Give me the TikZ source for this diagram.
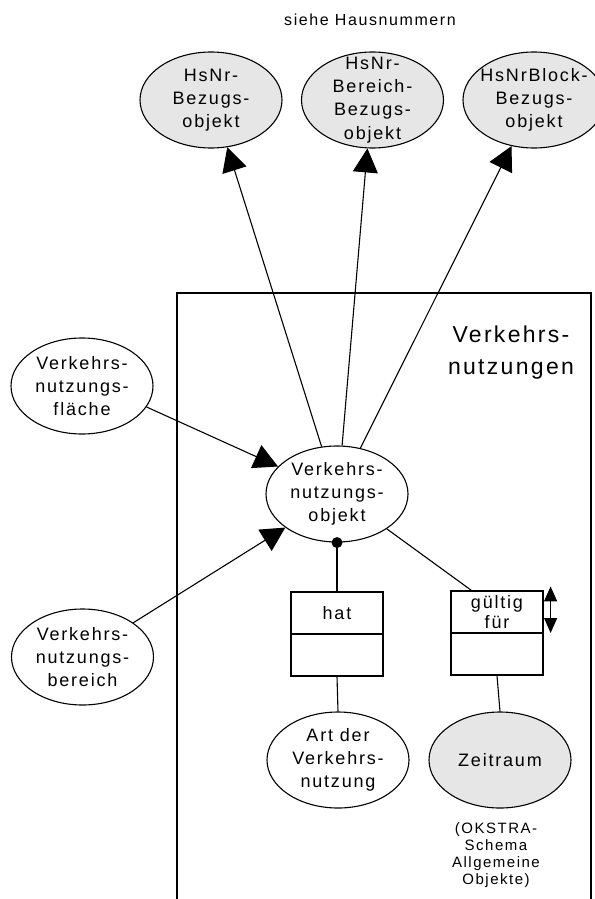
\documentclass[tikz,border=0pt]{standalone}
\usepackage{fontspec}
\setmainfont{Liberation Sans}[LetterSpace=10]
\usetikzlibrary{shapes.geometric,arrows.meta,calc}

\definecolor{entgrey}{RGB}{230,230,230}
\newcommand\fntM{\fontsize{18}{23.3}\selectfont}
\newcommand\fntR{\fontsize{18}{20}\selectfont}
\newcommand\fntT{\fontsize{23}{32}\selectfont}
\newcommand\fntS{\fontsize{15}{16.8}\selectfont}
\newcommand\fntH{\fontsize{16}{18}\selectfont}

\tikzset{
  ent/.style={ellipse, draw, line width=1.1pt, minimum width=142pt,
              minimum height=96pt, inner sep=0pt},
  extent/.style={ent, fill=entgrey},
  lbl/.style={align=center, inner sep=0pt, font=\fntM},
  relbox/.style={draw, line width=1.2pt, minimum width=92pt,
                 minimum height=84pt, inner sep=0pt},
  conn/.style={line width=1.1pt},
  isa/.style={conn, -{Triangle[length=24pt,width=25pt]}},
}

\begin{document}
\begin{tikzpicture}[x=1pt,y=-1pt]
\useasboundingbox (0,0) rectangle (594,899);

% heading above the referenced objects
\node[font=\fntH, inner sep=0pt] (siehe) at (370,20) {siehe Hausnummern};

% referenced objects (other schema)
\node[extent] (hsnr)  at (211,100) {};
\node[extent] (hsnrb) at (372.5,100) {};
\node[extent] (hsnrk) at (534,100) {};
\node[lbl] (hsnrT)  at (hsnr)  {HsNr-\\Bezugs-\\objekt};
\node[lbl] (hsnrbT) at (hsnrb) {HsNr-\\Bereich-\\Bezugs-\\objekt};
\node[lbl] (hsnrkT) at (hsnrk) {HsNrBlock-\\Bezugs-\\objekt};

% package frame
\draw[line width=2pt] (177,900) -- (177,293) -- (591,293) -- (591,900);
\node[font=\fntT, align=center, inner sep=0pt] (pkg) at (511,353) {Verkehrs-\\nutzungen};

% entities
\node[ent] (flaeche) at (82,386) {};
\node[lbl] (flaecheT) at (flaeche) {Verkehrs-\\nutzungs-\\fläche};
\node[ent] (bereich) at (82.5,657) {};
\node[lbl] (bereichT) at (bereich) {Verkehrs-\\nutzungs-\\bereich};
\node[ent] (obj) at (337,494) {};
\node[lbl] (objT) at (obj) {Verkehrs-\\nutzungs-\\objekt};
\node[ent] (art) at (338,760) {};
\node[lbl] (artT) at (art) {Art der\\Verkehrs-\\nutzung};
\node[extent] (zeit) at (500,760) {};
\node[lbl] (zeitT) at (zeit) {Zeitraum};
\node[font=\fntS, align=center, inner sep=0pt] (okstra) at (496,855)
  {(OKSTRA-\\Schema\\Allgemeine\\Objekte)};

% relations
\node[relbox] (hat) at (337,634) {};
\draw[line width=2pt] (hat.west) -- (hat.east);
\node[lbl] (hatT) at ($(hat.north)!0.5!(hat.center)$) {hat};
\node[relbox] (gf) at (497,633) {};
\draw[line width=1.1pt] (gf.west) -- (gf.east);
\node[lbl, font=\fntR] (gfT) at ($(gf.north)!0.5!(gf.center)$) {gültig\\für};
\coordinate (gfup) at ($(gf.north east)+(7,-4)$);
\coordinate (gfdn) at ($(gf.east)+(7,0)$);
\draw[line width=1.2pt, {Triangle[length=15pt,width=13pt]}-{Triangle[length=15pt,width=13pt]}]
  (gfup) -- (gfdn);

% generalisations
\draw[isa] (obj.108) -- (hsnr.-71);
\draw[isa] (obj.84)  -- (hsnrb.-96.7);
\draw[isa] (obj.63)  -- (hsnrk.-116.6);
\draw[isa] (flaeche.-18) -- (obj.155.5);
\draw[isa] (bereich.34)  -- (obj.213.4);

% relation lines
\fill (obj.south) circle (5.5pt);
\draw[conn] (obj.south) -- (hat.north);
\draw[conn] (hat.south) -- (art.north);
\draw[conn] (obj.-35) -- ($(gf.north west)+(21,0)$);
\draw[conn] (gf.south) -- (zeit.north);
\end{tikzpicture}
\end{document}
